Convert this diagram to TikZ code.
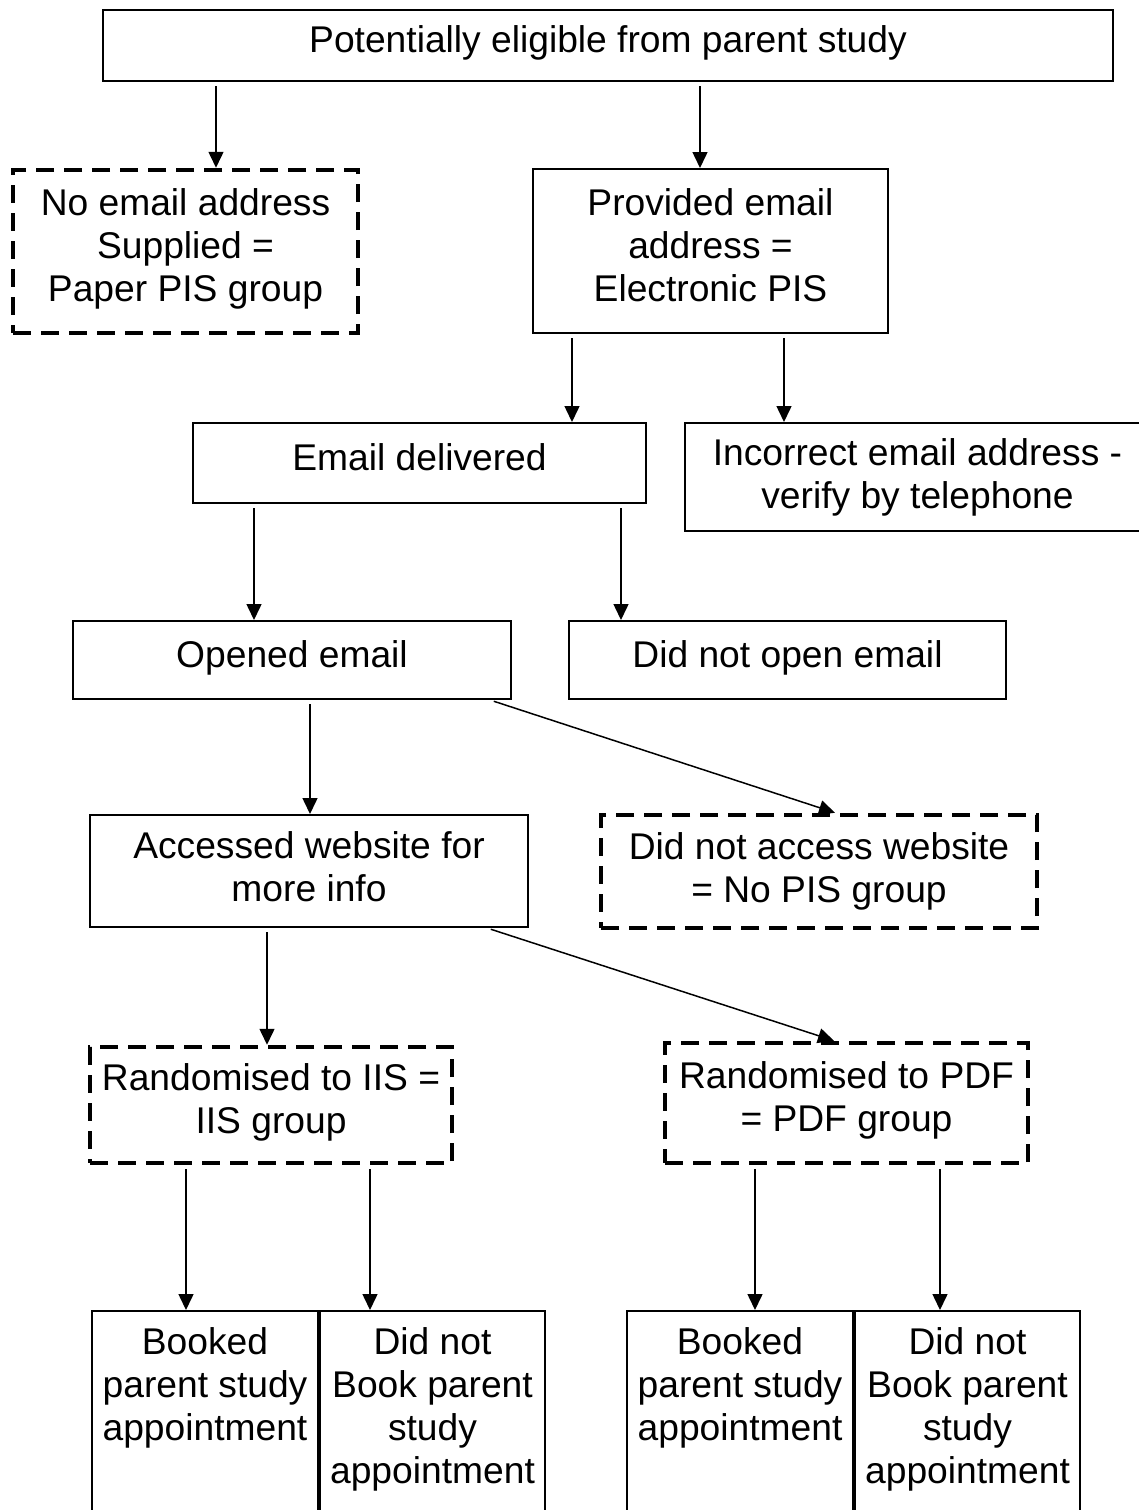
\documentclass[tikz,border=0pt]{standalone}
\usepackage{fontspec}
\setmainfont{Liberation Sans}
\usetikzlibrary{arrows.meta}
\begin{document}
\begin{tikzpicture}[x=0.5pt,y=-0.5pt,
  every node/.style={font=\fontsize{18.6pt}{21.5pt}\selectfont, align=center, inner sep=0pt},
  box/.style={draw, line width=1pt, text depth=6pt},
  dbox/.style={draw, line width=2.25pt, dash pattern=on 9pt off 5pt, text depth=6pt},
  cell/.style={draw, line width=1pt, anchor=north, minimum height=120pt},
  arr/.style={line width=0.75pt, -{Triangle[length=8pt,width=7.5pt]}, shorten <=2pt}]

\useasboundingbox (0,0) rectangle (1139,1510);
\clip (0,0) rectangle (1139,1510);

% --- boxes ---
\node[box, minimum width=505pt, minimum height=35.5pt] (top) at (608,45.5)
  {Potentially eligible from parent study};
\node[dbox, minimum width=172.5pt, minimum height=81.5pt] (noemail) at (185.5,251.5)
  {No email address\\Supplied =\\Paper PIS group};
\node[box, minimum width=177.5pt, minimum height=82pt] (provided) at (710.5,251)
  {Provided email\\address =\\Electronic PIS};
\node[box, minimum width=226.5pt, minimum height=40pt] (delivered) at (419.5,463)
  {Email delivered};
\node[box, minimum width=232.5pt, minimum height=54pt, text depth=3pt] (incorrect) at (917.5,477)
  {Incorrect email address -\\verify by telephone};
\node[box, minimum width=219pt, minimum height=39pt] (opened) at (292,660)
  {Opened email};
\node[box, minimum width=218.5pt, minimum height=39pt] (notopen) at (787.5,660)
  {Did not open email};
\node[box, minimum width=219pt, minimum height=56pt, text depth=4pt] (accessed) at (309,871)
  {Accessed website for\\more info};
\node[dbox, minimum width=218pt, minimum height=56.5pt, text depth=4pt] (notaccess) at (819,871.5)
  {Did not access website\\= No PIS group};
\node[dbox, minimum width=181pt, minimum height=58pt] (iis) at (271,1105)
  {Randomised to IIS =\\IIS group};
\node[dbox, minimum width=181.5pt, minimum height=60pt] (pdf) at (846.5,1103)
  {Randomised to PDF\\= PDF group};

% --- outcome cells (run off the lower edge) ---
\node[cell, minimum width=113pt] (b1) at (205,1310) {};
\node[cell, minimum width=112.5pt] (b2) at (432.5,1310) {};
\node[cell, minimum width=113pt] (b3) at (740,1310) {};
\node[cell, minimum width=112.5pt] (b4) at (967.5,1310) {};
\node[anchor=north] at (205,1327) {Booked\\parent study\\appointment};
\node[anchor=north] at (432.5,1327) {Did not\\Book parent\\study\\appointment};
\node[anchor=north] at (740,1327) {Booked\\parent study\\appointment};
\node[anchor=north] at (967.5,1327) {Did not\\Book parent\\study\\appointment};

% --- connectors ---
\draw[arr] (top.south -| 216,0) -- (noemail.north -| 216,0);
\draw[arr] (top.south -| 700,0) -- (provided.north -| 700,0);
\draw[arr] (provided.south -| 572,0) -- (delivered.north -| 572,0);
\draw[arr] (provided.south -| 784,0) -- (incorrect.north -| 784,0);
\draw[arr] (delivered.south -| 254,0) -- (opened.north -| 254,0);
\draw[arr] (delivered.south -| 621,0) -- (notopen.north -| 621,0);
\draw[arr] (opened.south -| 310,0) -- (accessed.north -| 310,0);
\draw[arr] (opened.south -| 490,0) -- (notaccess.north -| 835,0);
\draw[arr] (accessed.south -| 267,0) -- (iis.north -| 267,0);
\draw[arr] (accessed.south -| 487,0) -- (pdf.north -| 834,0);
\draw[arr] (iis.south -| 186,0) -- (b1.north -| 186,0);
\draw[arr] (iis.south -| 370,0) -- (b2.north -| 370,0);
\draw[arr] (pdf.south -| 755,0) -- (b3.north -| 755,0);
\draw[arr] (pdf.south -| 940,0) -- (b4.north -| 940,0);
\end{tikzpicture}
\end{document}
